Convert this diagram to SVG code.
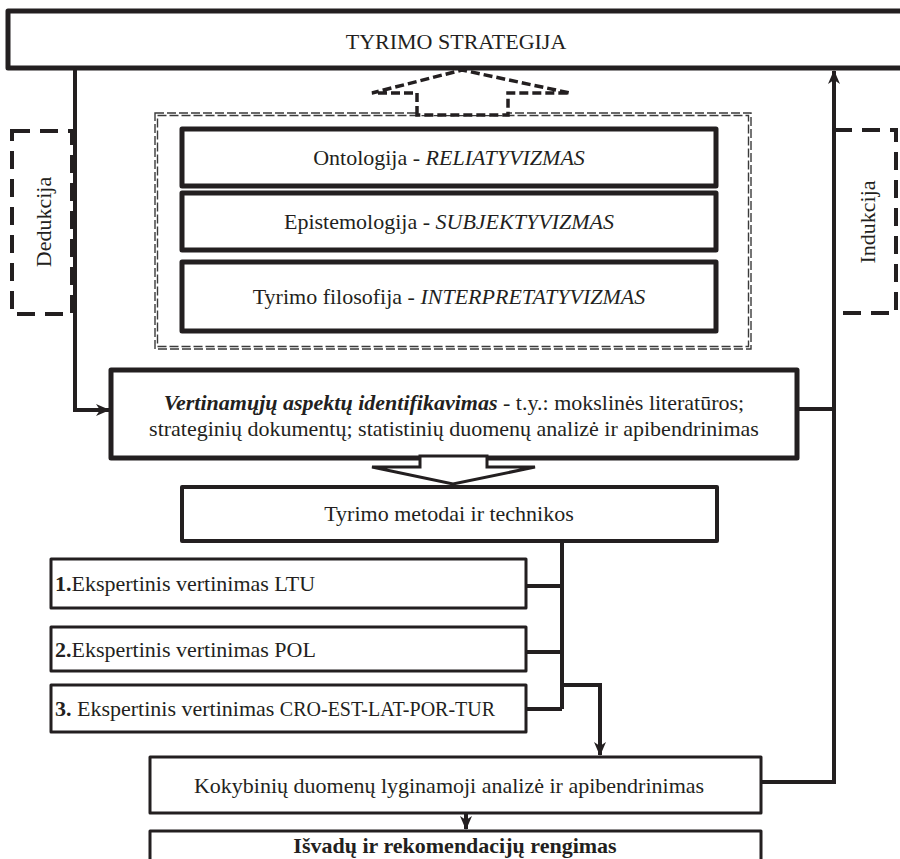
<svg xmlns="http://www.w3.org/2000/svg" width="900" height="859" viewBox="0 0 900 859" font-family="'Liberation Serif', 'Times New Roman', serif">
  <defs>
    <marker id="arrow" markerUnits="userSpaceOnUse" markerWidth="14" markerHeight="12" refX="13" refY="6" orient="auto">
      <path d="M0,0 L14,6 L0,12 L4,6 Z" fill="#231f20"/>
    </marker>
    <style>
      text { font-family: "Liberation Serif", "Times New Roman", serif; fill: #231f20; }
      .box { fill: #fff; stroke: #231f20; stroke-linejoin: round; }
      .thick { stroke-width: 5; }
      .mid { stroke-width: 4; }
      .thin { stroke-width: 3; }
      .conn { fill: none; stroke: #231f20; stroke-width: 4; }
      .dash { fill: none; stroke: #231f20; stroke-width: 4; stroke-dasharray: 18 10; }
      .dbl { fill: none; stroke: #3a3a3a; stroke-width: 1.4; stroke-dasharray: 9 3; }
      .t { font-size: 22px; text-anchor: middle; }
      .i { font-style: italic; }
      .b { font-weight: bold; }
    </style>
  </defs>

  <rect width="900" height="859" fill="#fff"/>

  <!-- top strategy bar -->
  <g id="strategy">
    <rect class="box thick" x="8" y="11" width="900" height="57"/>
    <text class="t" x="456" y="49">TYRIMO STRATEGIJA</text>
  </g>

  <!-- deduction / induction side frames -->
  <g id="deduction">
    <rect class="dash" x="12" y="131" width="60" height="183"/>
    <text class="t" transform="translate(51,222) rotate(-90)">Dedukcija</text>
  </g>
  <g id="induction">
    <rect class="dash" x="834" y="130" width="62" height="183"/>
    <text class="t" transform="translate(875,222) rotate(-90)">Indukcija</text>
  </g>

  <!-- philosophy frame: double dashed border -->
  <g id="philosophy">
    <rect class="dbl" x="155" y="113" width="596" height="236"/>
    <rect class="dbl" x="157.5" y="115.5" width="591" height="231"/>
    <!-- dashed hollow arrow up to the strategy bar -->
    <polygon points="417,115 417,93 372,93 462,70 570,93 508,93 508,115" fill="#fff" stroke="#231f20" stroke-width="3.5" stroke-dasharray="9 4"/>
  </g>

  <g id="ontology">
    <rect class="box thick" x="182" y="129" width="534" height="57"/>
    <text class="t" x="449" y="165">Ontologija - <tspan class="i">RELIATYVIZMAS</tspan></text>
  </g>
  <g id="epistemology">
    <rect class="box thick" x="182" y="193" width="534" height="57"/>
    <text class="t" x="449" y="229">Epistemologija - <tspan class="i">SUBJEKTYVIZMAS</tspan></text>
  </g>
  <g id="research-philosophy">
    <rect class="box thick" x="182" y="262" width="534" height="69"/>
    <text class="t" x="449" y="304">Tyrimo filosofija - <tspan class="i">INTERPRETATYVIZMAS</tspan></text>
  </g>

  <!-- connectors -->
  <g id="connectors">
    <path class="conn" d="M75,70 V410 H109" marker-end="url(#arrow)"/>
    <path class="conn" d="M761,782 H834 V71" marker-end="url(#arrow)"/>
    <path class="conn" d="M797,409 H834"/>
    <path class="conn" d="M562,541 V709"/>
    <path class="conn" d="M526,586 H562 M526,652 H562 M526,709 H562"/>
    <path class="conn" d="M562,685 H600 V755" marker-end="url(#arrow)"/>
    <path class="conn" d="M466,813 V829" marker-end="url(#arrow)"/>
  </g>

  <g id="aspects">
    <rect class="box thick" x="111" y="370" width="686" height="88"/>
    <text class="t" x="454" y="410"><tspan class="b i">Vertinamųjų aspektų identifikavimas</tspan> - t.y.: mokslinės literatūros;</text>
    <text class="t" x="454" y="436">strateginių dokumentų; statistinių duomenų analizė ir apibendrinimas</text>
    <!-- hollow arrow down to methods -->
    <polygon points="420,456 420,467 372,467 453,484 535,467 487,467 487,456" fill="#fff" stroke="#231f20" stroke-width="3" stroke-linejoin="miter"/>
  </g>

  <g id="methods">
    <rect class="box mid" x="182" y="487" width="535" height="54"/>
    <text class="t" x="449" y="521">Tyrimo metodai ir technikos</text>
  </g>

  <g id="expert-ltu">
    <rect class="box thin" x="51" y="559" width="475" height="49"/>
    <text x="55" y="591" font-size="22"><tspan class="b">1.</tspan>Ekspertinis vertinimas LTU</text>
  </g>
  <g id="expert-pol">
    <rect class="box thin" x="51" y="627" width="475" height="44"/>
    <text x="55" y="657" font-size="22"><tspan class="b">2.</tspan>Ekspertinis vertinimas POL</text>
  </g>
  <g id="expert-other">
    <rect class="box thin" x="51" y="685" width="475" height="47"/>
    <text x="55" y="716" font-size="22"><tspan class="b">3.</tspan> Ekspertinis vertinimas <tspan font-size="20">CRO-EST-LAT-POR-TUR</tspan></text>
  </g>

  <g id="comparison">
    <rect class="box thin" x="150" y="757" width="611" height="56"/>
    <text class="t" x="449" y="793">Kokybinių duomenų lyginamoji analizė ir apibendrinimas</text>
  </g>

  <g id="conclusions">
    <rect class="box thin" x="150" y="831" width="611" height="40"/>
    <text class="t b" x="455" y="853">Išvadų ir rekomendacijų rengimas</text>
  </g>
</svg>
